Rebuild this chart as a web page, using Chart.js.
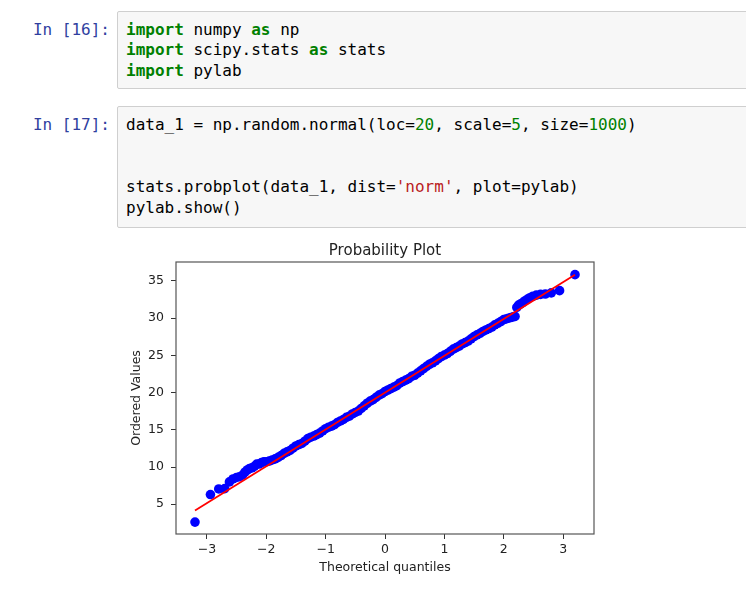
<!DOCTYPE html>
<html>
<head>
<meta charset="utf-8">
<script src="https://cdn.jsdelivr.net/npm/chart.js@4.4.0/dist/chart.umd.min.js"></script>
<style>
  body { margin: 0; background: #fff; width: 746px; height: 590px; overflow: hidden; position: relative; }
  .prompt { position: absolute; left: 0; width: 110px; text-align: right; font-family: "DejaVu Sans Mono", monospace; font-size: 16px; line-height: 20.8px; color: #303F9F; white-space: pre; }
  .cell { position: absolute; left: 117px; width: 700px; box-sizing: border-box; background: #f7f7f7; border: 1px solid #cfcfcf; border-radius: 2px; padding: 7.6px 8px 0 8px; font-family: "DejaVu Sans Mono", monospace; font-size: 16px; line-height: 20.8px; color: #000; white-space: pre; }
  .kw { color: #008000; font-weight: bold; }
  .num { color: #008000; }
  .str { color: #BA2121; }
  #plot { position: absolute; left: 110px; top: 236px; }
</style>
</head>
<body>
<div class="prompt" style="top:19.6px">In [16]:</div>
<div class="cell" style="top:11px;height:78px"><span class="kw">import</span> numpy <span class="kw">as</span> np
<span class="kw">import</span> scipy.stats <span class="kw">as</span> stats
<span class="kw">import</span> pylab</div>

<div class="prompt" style="top:114.6px">In [17]:</div>
<div class="cell" style="top:106px;height:122px">data_1 = np.random.normal(loc=<span class="num">20</span>, scale=<span class="num">5</span>, size=<span class="num">1000</span>)


stats.probplot(data_1, dist=<span class="str">'norm'</span>, plot=pylab)
pylab.show()</div>

<canvas id="plot" width="550" height="354"></canvas>

<script>
// values
const theoreticalQuantiles = [
  -3.20, -2.94, -2.80, -2.70, -2.62, -2.56, -2.50, -2.45, -2.40, -2.36,
  -2.32, -2.28, -2.24, -2.20, -2.16, -2.12, -2.08, -2.04, -2.00, -1.95,
  -1.90, -1.85, -1.80, -1.75, -1.70, -1.65, -1.60, -1.55, -1.50, -1.45,
  -1.40, -1.35, -1.30, -1.25, -1.20, -1.15, -1.10, -1.05, -1.00, -0.95,
  -0.90, -0.85, -0.80, -0.75, -0.70, -0.65, -0.60, -0.55, -0.50, -0.45,
  -0.40, -0.35, -0.30, -0.25, -0.20, -0.15, -0.10, -0.05, 0.00, 0.05,
  0.10, 0.15, 0.20, 0.25, 0.30, 0.35, 0.40, 0.45, 0.50, 0.55,
  0.60, 0.65, 0.70, 0.75, 0.80, 0.85, 0.90, 0.95, 1.00, 1.05,
  1.10, 1.15, 1.20, 1.25, 1.30, 1.35, 1.40, 1.45, 1.50, 1.55,
  1.60, 1.65, 1.70, 1.75, 1.80, 1.85, 1.90, 1.95, 2.00, 2.04,
  2.08, 2.12, 2.16, 2.19, 2.22, 2.25, 2.28, 2.32, 2.36, 2.40,
  2.44, 2.49, 2.55, 2.62, 2.70, 2.80, 2.94, 3.20
];
const orderedValues = [
  2.60, 6.30, 7.05, 7.10, 8.00, 8.40, 8.60, 8.70, 8.90, 9.30,
  9.60, 9.80, 9.90, 10.10, 10.40, 10.40, 10.60, 10.70, 10.70, 10.80,
  10.95, 11.09, 11.29, 11.54, 11.84, 12.03, 12.23, 12.53, 12.83, 13.02,
  13.17, 13.47, 13.82, 14.01, 14.16, 14.36, 14.56, 14.85, 15.15, 15.35,
  15.50, 15.69, 15.99, 16.19, 16.39, 16.68, 16.83, 17.13, 17.33, 17.52,
  17.87, 18.22, 18.57, 18.86, 19.06, 19.36, 19.66, 19.85, 20.15, 20.35,
  20.55, 20.74, 20.94, 21.29, 21.49, 21.68, 21.88, 22.18, 22.33, 22.62,
  22.92, 23.22, 23.52, 23.81, 24.01, 24.26, 24.56, 24.85, 25.05, 25.25,
  25.55, 25.84, 26.04, 26.24, 26.54, 26.73, 26.93, 27.23, 27.53, 27.77,
  27.97, 28.22, 28.42, 28.61, 28.81, 29.11, 29.31, 29.55, 29.80, 29.90,
  30.00, 30.09, 30.19, 30.24, 31.45, 31.75, 31.90, 32.10, 32.35, 32.55,
  32.75, 32.95, 33.10, 33.20, 33.25, 33.40, 33.70, 35.85
];
// red fitted line, two ends
const fitLineX = [-3.20, 3.20];
const fitLineY = [4.15, 35.85];

const xTickValues = [-3, -2, -1, 0, 1, 2, 3];
const yTickValues = [5, 10, 15, 20, 25, 30, 35];

const labelFont = { family: 'DejaVu Sans', size: 12.5 };
const textColor = '#222';

const fmt = v => String(v).replace('-', '\u2212');

// matplotlib style box around the axes
const frame = {
  id: 'frame',
  afterDatasetsDraw(chart) {
    const { ctx, chartArea: a } = chart;
    ctx.save();
    ctx.strokeStyle = '#555';
    ctx.lineWidth = 1.2;
    ctx.strokeRect(a.left, a.top, a.right - a.left, a.bottom - a.top);
    ctx.restore();
  }
};

new Chart(document.getElementById('plot'), {
  type: 'scatter',
  data: {
    datasets: [
      {
        type: 'line',
        data: fitLineX.map((x, i) => ({ x: x, y: fitLineY[i] })),
        borderColor: '#ff0000',
        borderWidth: 1.8,
        pointRadius: 0,
        fill: false,
        order: 0
      },
      {
        data: theoreticalQuantiles.map((x, i) => ({ x: x, y: orderedValues[i] })),
        backgroundColor: '#0000ff',
        borderColor: '#0000ff',
        borderWidth: 0,
        pointRadius: 4.8,
        order: 1
      }
    ]
  },
  options: {
    responsive: false,
    animation: false,
    devicePixelRatio: 1,
    layout: { padding: 0 },
    plugins: {
      legend: { display: false },
      tooltip: { enabled: false },
      title: {
        display: true,
        text: 'Probability Plot',
        color: textColor,
        font: { family: 'DejaVu Sans', size: 15, weight: 'normal' },
        padding: { top: 6, bottom: 2 }
      }
    },
    scales: {
      x: {
        type: 'linear',
        min: -3.52,
        max: 3.52,
        afterBuildTicks: s => { s.ticks = xTickValues.map(v => ({ value: v })); },
        afterFit: s => { s.height = 56; },
        ticks: { callback: fmt, font: labelFont, color: textColor, padding: 3, maxRotation: 0, autoSkip: false },
        grid: { drawOnChartArea: false, drawTicks: true, tickLength: 5, color: '#333' },
        border: { display: false },
        title: { display: true, text: 'Theoretical quantiles', font: labelFont, color: textColor, padding: { top: 0, bottom: 15 } }
      },
      y: {
        type: 'linear',
        min: 1.0,
        max: 37.55,
        afterBuildTicks: s => { s.ticks = yTickValues.map(v => ({ value: v })); },
        afterFit: s => { s.width = 66; },
        ticks: { callback: fmt, font: labelFont, color: textColor, padding: 7, autoSkip: false },
        grid: { drawOnChartArea: false, drawTicks: true, tickLength: 5, color: '#333' },
        border: { display: false },
        title: { display: true, text: 'Ordered Values', font: labelFont, color: textColor, padding: { top: 19, bottom: 0 } }
      },
      yRight: {
        type: 'linear',
        position: 'right',
        ticks: { display: false },
        grid: { display: false },
        border: { display: false },
        afterFit: s => { s.width = 66; }
      }
    }
  },
  plugins: [frame]
});
</script>
</body>
</html>
